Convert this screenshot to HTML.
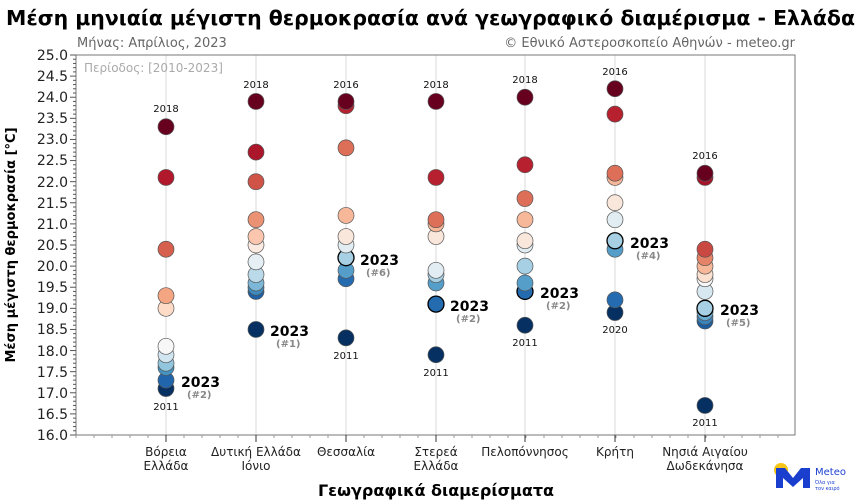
<!DOCTYPE html>
<html><head><meta charset="utf-8"><style>
html,body{margin:0;padding:0;background:#fff;width:868px;height:502px;overflow:hidden}
svg{display:block;font-family:"DejaVu Sans","Liberation Sans",sans-serif}
</style></head><body>
<svg id="s" width="868" height="502" viewBox="0 0 868 502">
<text x="6" y="25" font-size="20" font-weight="bold" fill="#000" textLength="849" lengthAdjust="spacingAndGlyphs">Μέση μηνιαία μέγιστη θερμοκρασία ανά γεωγραφικό διαμέρισμα - Ελλάδα</text>
<text x="77" y="47" font-size="13" fill="#666">Μήνας: Απρίλιος, 2023</text>
<text x="795" y="47" font-size="13" fill="#666" text-anchor="end">© Εθνικό Αστεροσκοπείο Αθηνών - meteo.gr</text>
<g id="grid"></g>
<rect x="76" y="55" width="719" height="380" fill="none" stroke="#777" stroke-width="1"/>
<text x="84" y="72" font-size="12" fill="#aaa">Περίοδος: [2010-2023]</text>
<g id="ticks"></g>
<g font-size="14" fill="#222" text-anchor="end">
<text x="68" y="60">25.0</text><text x="68" y="81">24.5</text><text x="68" y="102">24.0</text><text x="68" y="123">23.5</text><text x="68" y="144">23.0</text><text x="68" y="165">22.5</text><text x="68" y="187">22.0</text><text x="68" y="208">21.5</text><text x="68" y="229">21.0</text><text x="68" y="250">20.5</text><text x="68" y="271">20.0</text><text x="68" y="292">19.5</text><text x="68" y="313">19.0</text><text x="68" y="334">18.5</text><text x="68" y="356">18.0</text><text x="68" y="377">17.5</text><text x="68" y="398">17.0</text><text x="68" y="419">16.5</text><text x="68" y="440">16.0</text>
</g>
<text transform="translate(15,245) rotate(-90)" font-size="13" font-weight="bold" text-anchor="middle">Μέση μέγιστη θερμοκρασία [°C]</text>
<g font-size="12" fill="#222" text-anchor="middle">
<text x="166" y="456">Βόρεια</text><text x="166" y="470">Ελλάδα</text>
<text x="256" y="456">Δυτική Ελλάδα</text><text x="256" y="470">Ιόνιο</text>
<text x="346" y="456">Θεσσαλία</text>
<text x="436" y="456">Στερεά</text><text x="436" y="470">Ελλάδα</text>
<text x="525" y="456">Πελοπόννησος</text>
<text x="615" y="456">Κρήτη</text>
<text x="705" y="456">Νησιά Αιγαίου</text><text x="705" y="470">Δωδεκάνησα</text>
</g>
<text x="436" y="496" font-size="16" font-weight="bold" text-anchor="middle">Γεωγραφικά διαμερίσματα</text>
<g id="dots"></g>
<g font-size="10" fill="#111" text-anchor="middle">
<text x="166" y="112">2018</text><text x="166" y="410">2011</text>
<text x="256" y="88">2018</text>
<text x="346" y="88">2016</text><text x="346" y="359">2011</text>
<text x="436" y="88">2018</text><text x="436" y="376">2011</text>
<text x="525" y="83">2018</text><text x="525" y="346">2011</text>
<text x="615" y="75">2016</text><text x="615" y="333">2020</text>
<text x="705" y="159">2016</text><text x="705" y="426">2011</text>
</g>
<g font-size="14" font-weight="bold" fill="#000">
<text x="181" y="387">2023</text><text x="270" y="336">2023</text><text x="360" y="265">2023</text><text x="450" y="311">2023</text><text x="540" y="298">2023</text><text x="630" y="248">2023</text><text x="720" y="315">2023</text>
</g>
<g font-size="10" font-weight="bold" fill="#888">
<text x="187" y="398">(#2)</text><text x="276" y="347">(#1)</text><text x="366" y="276">(#6)</text><text x="456" y="322">(#2)</text><text x="546" y="309">(#2)</text><text x="636" y="259">(#4)</text><text x="726" y="326">(#5)</text>
</g>
<circle cx="781" cy="470" r="7" fill="#f5c518"/>
<path d="M776 488 L776 468 L785 468 L793 478 L801 468 L810 468 L810 488 L803 488 L803 478 L793 487 L783 478 L783 488 Z" fill="#1a3fcf"/>
<text x="815" y="475" font-size="10" fill="#1a3fcf">Meteo</text>
<text x="815" y="484" font-size="5" fill="#1a3fcf">Όλα για</text>
<text x="815" y="490" font-size="5" fill="#1a3fcf">τον καιρό</text>
</svg>
<script>
var NS="http://www.w3.org/2000/svg";
function Y(v){return 55+(25-v)*380/9;}
function el(p,t,a){var e=document.createElementNS(NS,t);for(var k in a)e.setAttribute(k,a[k]);p.appendChild(e);return e;}
var xs=[166,256,346,436,525,615,705];
var g=document.getElementById("grid");
xs.forEach(function(x){el(g,"line",{x1:x,x2:x,y1:55,y2:435,stroke:"#e6e6e6","stroke-width":1.5});});
var t=document.getElementById("ticks");
for(var i=0;i<=90;i++){var y=Y(16+i/10);var L=(i%5==0)?6:3;el(t,"line",{x1:76-L,x2:76,y1:y,y2:y,stroke:"#555"});}
for(var x=76;x<=795;x+=18){el(t,"line",{x1:x,x2:x,y1:435,y2:438,stroke:"#999"});}
xs.forEach(function(x){el(t,"line",{x1:x,x2:x,y1:435,y2:442,stroke:"#333"});});
var pal=["#67001f","#b2182b","#d6604d","#f4a582","#fddbc7","#f7f7f7","#d1e5f0","#92c5de","#4393c3","#2166ac","#053061"];
function hx(c){return [parseInt(c.substr(1,2),16),parseInt(c.substr(3,2),16),parseInt(c.substr(5,2),16)];}
function col(f){f=Math.max(0,Math.min(1,f))*(pal.length-1);var i=Math.min(Math.floor(f),pal.length-2),r=f-i;var a=hx(pal[i]),b=hx(pal[i+1]);return "rgb("+a.map(function(v,k){return Math.round(v+(b[k]-v)*r)}).join(",")+")";}
var data=[
[[23.3],[22.1],[20.4],[19.3],[19.0],[18.1],[17.9],[17.7],[17.6],[17.3,2],[17.1]],
[[23.9],[22.7],[22.0],[21.1],[20.7],[20.5],[20.1],[19.8],[19.6],[19.5],[19.4],[18.5,2]],
[[23.9],[23.8],[22.8],[21.2],[20.7],[20.5],[20.2,1],[19.9],[19.7],[18.3]],
[[23.9],[22.1],[21.1],[21.0],[20.7],[19.9],[19.8],[19.6],[19.1,1],[17.9]],
[[24.0],[22.4],[21.6],[21.1],[20.6],[20.5],[20.0],[19.6],[19.4,1],[18.6]],
[[24.2],[23.6],[22.2],[22.1],[21.5],[21.1],[20.6,1],[20.4],[19.2],[18.9]],
[[22.2],[22.1],[20.4],[20.2],[20.0],[19.8],[19.7],[19.4],[19.0,1],[18.9],[18.8],[18.7],[16.7]]];
var d=document.getElementById("dots");
data.forEach(function(arr,ci){
 var n=arr.length;
 for(var j=n-1;j>=0;j--){var p=arr[j];var b=p[1]==1;
  el(d,"circle",{cx:xs[ci],cy:Y(p[0]),r:8,fill:col(j/(n-1)),stroke:b?"#000":"#555","stroke-width":b?1.3:0.7});}
});
</script>
</body></html>
